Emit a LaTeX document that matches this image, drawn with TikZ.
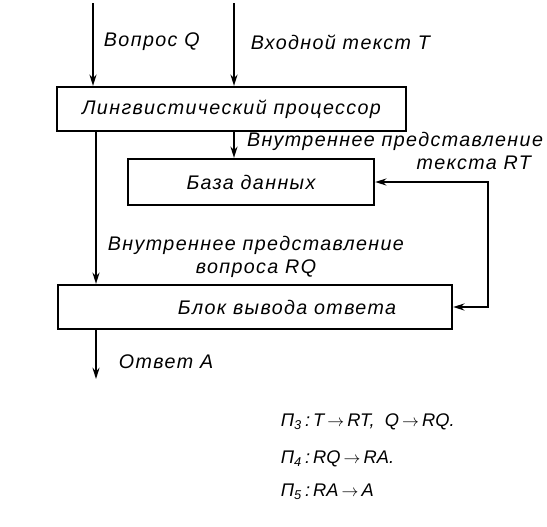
\documentclass[tikz,border=0pt]{standalone}
\usepackage{fontspec}
\setmainfont{Liberation Sans}
\newfontfamily\skan[LetterSpace=7]{Liberation Sans}
\usetikzlibrary{arrows.meta}

\begin{document}
\begin{tikzpicture}[x=0.025cm, y=-0.025cm, line width=1.4pt,
    >={Stealth[length=8pt,width=5pt]},
    blok/.style={draw, line width=1.6pt, inner sep=0pt,
      font=\skan\itshape\fontsize{14}{16}\selectfont},
    lbl/.style={inner sep=0pt, font=\skan\itshape\fontsize{14}{16}\selectfont},
    formula/.style={inner sep=0pt, anchor=west, font=\itshape\fontsize{13}{15}\selectfont}]
  \useasboundingbox (0,0) rectangle (547,527);

  % blocks
  \node[blok, minimum width=8.725cm, minimum height=1.1cm] (ling) at (231.5,109) {Лингвистический процессор};
  \node[blok, minimum width=6.15cm, minimum height=1.15cm] (baza) at (251,182) {База данных};
  \node[blok, minimum width=9.85cm, minimum height=1.1cm] (vyvod) at (255,307) {\hspace*{1.6cm}Блок вывода ответа};

  % free ends
  \coordinate (vopros) at (93,3);
  \coordinate (tekst) at (234,3);
  \coordinate (levo) at (96,0);
  \coordinate (otvet) at (96,379);

  % connectors
  \draw[->] (vopros) -- (vopros |- ling.north);
  \draw[->] (tekst) -- (tekst |- ling.north);
  \draw[->] (ling.south -| tekst) -- (baza.north -| tekst);
  \draw[->] (ling.south -| levo) -- (vyvod.north -| levo);
  \draw[<->] (vyvod.east) -- ++(35,0) |- (baza.east);
  \draw[->] (vyvod.south -| otvet) -- (otvet);

  % labels
  \node[lbl, anchor=east, align=right] (lrt) at (544,151) {Внутреннее представление\\текста RT\hspace*{0.3cm}};
  \node[lbl, anchor=west] (lvopros) at (103,42) {Вопрос Q};
  \node[lbl, anchor=west] (ltekst) at (250,42) {Входной текст T};
  \node[lbl, align=center] (lrq) at (256,257) {Внутреннее представление\\вопроса RQ};
  \node[lbl, anchor=west] (lotvet) at (118,362) {Ответ A};

  % formulas
  \node[formula] (p3) at (280,422) {П\textsubscript{3}\,:\,T\,$\rightarrow$\,RT,\ \ Q\,$\rightarrow$\,RQ.};
  \node[formula] (p4) at (280,459) {П\textsubscript{4}\,:\,RQ\,$\rightarrow$\,RA.};
  \node[formula] (p5) at (280,492) {П\textsubscript{5}\,:\,RA\,$\rightarrow$\,A};
\end{tikzpicture}
\end{document}
